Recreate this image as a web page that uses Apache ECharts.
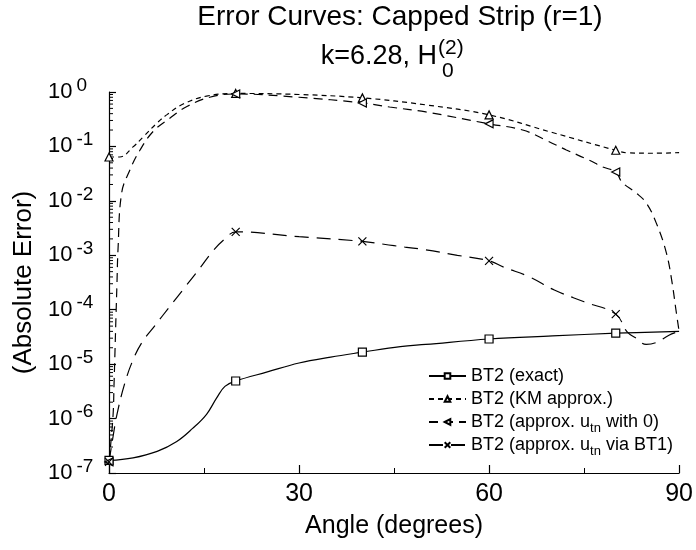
<!DOCTYPE html>
<html>
<head>
<meta charset="utf-8">
<script src="https://cdn.jsdelivr.net/npm/echarts@6/dist/echarts.min.js"></script>
<style>
  html, body { margin: 0; padding: 0; background: #fff; }
  #chart { width: 696px; height: 550px; }
</style>
</head>
<body>
<div id="chart"></div>
<script>
// data (angle in degrees, absolute error)
const exactX = [0, 3.8, 7.6, 10.7, 13.2, 15.4, 17, 18.3, 20, 25, 30, 35, 40, 46, 50, 60, 70, 80, 90]
const exactY = [1.7e-7, 1.9e-7, 2.5e-7, 3.8e-7, 6.6e-7, 1.2e-6, 2.4e-6, 3.9e-6, 4.9e-6, 7.2e-6, 1.05e-5, 1.35e-5, 1.66e-5, 2.1e-5, 2.3e-5, 2.9e-5, 3.3e-5, 3.7e-5, 4.0e-5]

const kmX = [0, 1.7, 3.8, 5.4, 7.6, 9.1, 11.7, 15.4, 20, 30, 40, 50, 60, 70, 80, 82, 86, 90]
const kmY = [0.064, 0.064, 0.098, 0.15, 0.27, 0.38, 0.6, 0.84, 0.94, 0.9, 0.78, 0.58, 0.38, 0.18, 0.085, 0.076, 0.075, 0.077]

const zeroX = [0, 0.63, 0.8, 0.95, 1.1, 1.26, 1.42, 2.0, 3.3, 4.9, 7, 9.6, 12.3, 15.9, 20, 30, 40, 44.3, 50, 60, 65.3, 69, 72.2, 75.8, 77.9, 80, 81, 83.2, 84.8, 86.4, 88, 88.9, 89.5, 90]
const zeroY = [1.6e-7, 1.1e-6, 4.5e-6, 1.8e-5, 7.4e-5, 3.1e-4, 1.26e-3, 0.014, 0.037, 0.086, 0.19, 0.33, 0.54, 0.8, 0.92, 0.8, 0.63, 0.53, 0.43, 0.26, 0.2, 0.13, 0.086, 0.056, 0.042, 0.034, 0.022, 0.014, 0.0092, 0.0039, 0.0011, 3.1e-4, 1e-4, 4.0e-5]

const bt1X = [0, 0.63, 1.26, 2.5, 3.8, 5.2, 7.25, 9.6, 12, 14.3, 16.4, 18.3, 20, 30, 40, 45, 50, 55, 60, 62.4, 66.4, 70.3, 75, 80, 81.8, 83.2, 84.8, 86.4, 88.4, 90]
const bt1Y = [1.6e-7, 4.6e-7, 1.2e-6, 4.5e-6, 1.2e-5, 2.5e-5, 5.1e-5, 1.15e-4, 2.6e-4, 5.7e-4, 1.2e-3, 2.0e-3, 2.7e-3, 2.2e-3, 1.8e-3, 1.5e-3, 1.26e-3, 1.0e-3, 7.9e-4, 6e-4, 4e-4, 2.3e-4, 1.4e-4, 8.3e-5, 3.9e-5, 3.0e-5, 2.3e-5, 2.5e-5, 3.4e-5, 4.0e-5]

// angles where a marker is drawn
const markAt = [0, 20, 40, 60, 80]

const xTicks = [0, 30, 60, 90]

// log axis minor ticks (2..9 of each decade)
const decades = [-7, -6, -5, -4, -3, -2, -1]
const minorSteps = [2, 3, 4, 5, 6, 7, 8, 9]
const yMinorTicks = decades.flatMap(d => minorSteps.map(m => m * Math.pow(10, d)))

const FONT = '"Liberation Sans", Arial, Helvetica, sans-serif'

const chart = echarts.init(document.getElementById('chart'), null, { renderer: 'canvas' })

const toData = (xs, ys) => xs.map((x, i) => ({
  value: [x, ys[i]],
  symbol: markAt.includes(x) ? undefined : 'none'
}))

const baseSeries = (name, xs, ys, symbol, dash) => ({
  name,
  type: 'line',
  symbol,
  symbolSize: 8,
  showAllSymbol: true,
  smooth: 0.4,
  lineStyle: { color: '#000', width: 1.2, type: dash },
  itemStyle: { color: '#fff', borderColor: '#000', borderWidth: 1.2 },
  emphasis: { disabled: true },
  data: toData(xs, ys)
})

const option = {
  animation: false,
  backgroundColor: '#fff',
  textStyle: { fontFamily: FONT, color: '#000' },
  graphic: [
    { type: 'text', x: 400, y: 17, style: { text: 'Error Curves: Capped Strip (r=1)', font: '28px ' + FONT, fill: '#000', align: 'center', verticalAlign: 'middle' } },
    { type: 'text', x: 437, y: 57, style: { text: 'k=6.28, H', font: '27px ' + FONT, fill: '#000', align: 'right', verticalAlign: 'middle' } },
    { type: 'text', x: 438, y: 48, style: { text: '(2)', font: '21px ' + FONT, fill: '#000', align: 'left', verticalAlign: 'middle' } },
    { type: 'text', x: 442, y: 71, style: { text: '0', font: '21px ' + FONT, fill: '#000', align: 'left', verticalAlign: 'middle' } }
  ],
  grid: { left: 109, right: 16, top: 92, bottom: 77 },
  legend: {
    orient: 'vertical',
    left: 423,
    top: 358,
    itemWidth: 37,
    itemHeight: 7,
    itemGap: -3,
    textStyle: {
      fontFamily: FONT, fontSize: 18, color: '#000', lineHeight: 26,
      rich: { sub: { fontFamily: FONT, fontSize: 13, lineHeight: 13, verticalAlign: 'bottom' } }
    },
    formatter: name => name.replace('utn', 'u{sub|tn}'),
    data: ['BT2 (exact)', 'BT2 (KM approx.)', 'BT2 (approx. utn with 0)', 'BT2 (approx. utn via BT1)']
  },
  xAxis: {
    type: 'value',
    min: 0,
    max: 90,
    interval: 30,
    name: 'Angle (degrees)',
    nameLocation: 'middle',
    nameGap: 41,
    nameTextStyle: { fontFamily: FONT, fontSize: 25, color: '#000' },
    axisLine: { show: true, lineStyle: { color: '#000', width: 1.2 } },
    axisTick: { show: true, inside: true, length: 8, lineStyle: { color: '#000', width: 1.2 } },
    minorTick: { show: true, splitNumber: 2, length: 5, lineStyle: { color: '#000', width: 1 } },
    axisLabel: {
      fontFamily: FONT, fontSize: 25, color: '#000', margin: 9,
      formatter: v => xTicks.includes(v) ? String(v) : ''
    },
    splitLine: { show: false }
  },
  yAxis: {
    type: 'log',
    logBase: 10,
    min: 1e-7,
    max: 1,
    interval: 1,
    name: '(Absolute Error)',
    nameLocation: 'middle',
    nameGap: 71,
    nameTextStyle: { fontFamily: FONT, fontSize: 26, color: '#000' },
    axisLine: { show: true, lineStyle: { color: '#000', width: 1.2 } },
    axisTick: { show: true, inside: true, length: 7, lineStyle: { color: '#000', width: 1.2 } },
    axisLabel: {
      margin: 61,
      align: 'left',
      formatter: v => '{b|10}{e|' + Math.round(Math.log10(v)) + '}',
      rich: {
        b: { fontFamily: FONT, fontSize: 22, color: '#000', lineHeight: 22, verticalAlign: 'bottom' },
        e: { fontFamily: FONT, fontSize: 19, color: '#000', lineHeight: 19, verticalAlign: 'bottom', padding: [0, 0, 8, 4] }
      }
    },
    splitLine: { show: false }
  },
  series: [
    baseSeries('BT2 (exact)', exactX, exactY, 'rect', 'solid'),
    baseSeries('BT2 (KM approx.)', kmX, kmY, 'triangle', [5, 4]),
    baseSeries('BT2 (approx. utn with 0)', zeroX, zeroY, 'path://M0,5L10,0L10,10Z', [9, 6]),
    baseSeries('BT2 (approx. utn via BT1)', bt1X, bt1Y, 'path://M0,0L10,10M10,0L0,10', [14, 8]),
    {
      // minor ticks of the log axis, placed through the axis scales
      type: 'custom',
      silent: true,
      clip: false,
      data: yMinorTicks.map(v => [0, v]),
      renderItem: (params, api) => {
        const p = api.coord([api.value(0), api.value(1)])
        return {
          type: 'line',
          shape: { x1: p[0], y1: p[1], x2: p[0] + 4, y2: p[1] },
          style: { stroke: '#000', lineWidth: 1 }
        }
      }
    }
  ]
}

chart.setOption(option)
</script>
</body>
</html>
